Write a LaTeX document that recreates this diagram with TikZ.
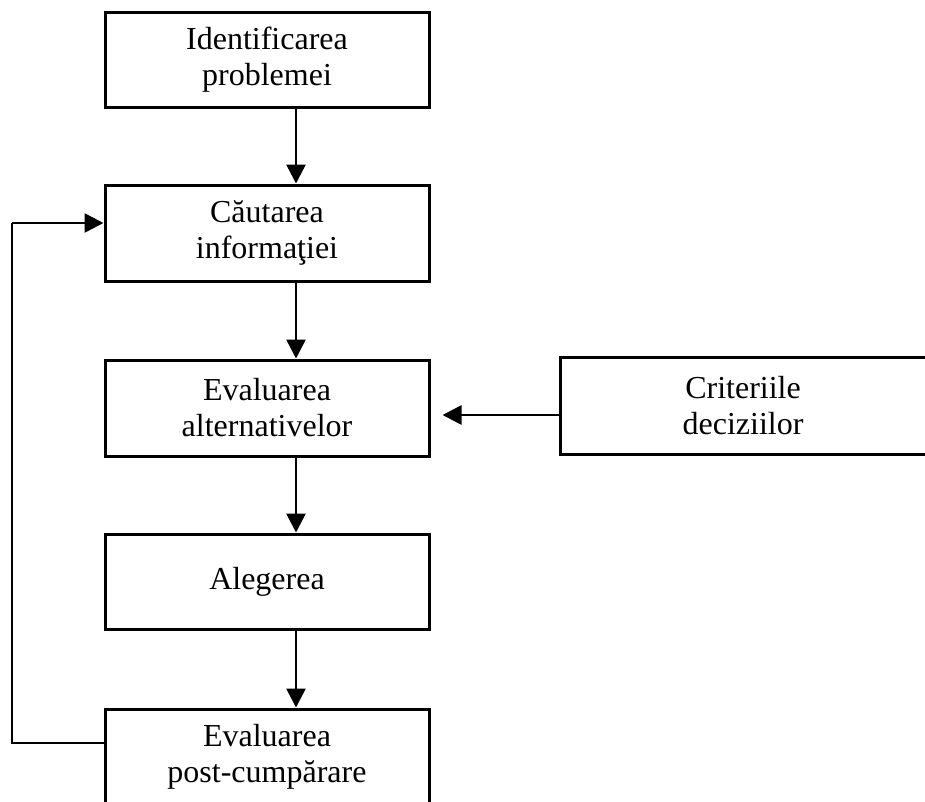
\documentclass[tikz,border=0pt]{standalone}
\usepackage{fontspec}
\setmainfont{Liberation Serif}
\usetikzlibrary{arrows.meta}
\begin{document}
\begin{tikzpicture}[x=1pt,y=-1pt,
  stage/.style={draw, line width=3pt, rectangle, minimum width=324pt,
    inner sep=0pt, align=center, font=\fontsize{32}{36}\selectfont},
  flow/.style={line width=2.6pt, -{Triangle[length=19pt,width=19pt]}},
  link/.style={line width=2.6pt}]
\useasboundingbox (0,0) rectangle (925,801);
\clip (0,0) rectangle (925,801);
\fill[white] (0,0) rectangle (925,801);

% process stages
\node[stage, minimum height=95pt] (b1) at (267,59.5) {Identificarea\\problemei};
\node[stage, minimum height=96pt] (b2) at (267,233) {Căutarea\\informaţiei};
\node[stage, minimum height=96pt] (b3) at (267,408) {Evaluarea\\alternativelor};
\node[stage, minimum height=95pt] (b4) at (267,581.5) {Alegerea};
\node[stage, minimum height=95pt] (b5) at (267,756.5) {Evaluarea\\post-cumpărare};
\node[stage, minimum width=366pt, minimum height=97pt] (cr) at (743,405.5) {Criteriile\\deciziilor};

% guide coordinates for the connectors
\coordinate (ax) at (296,0);
\coordinate (fbx) at (12,0);
\coordinate (ay) at (0,415);

% main sequence
\draw[flow] (b1.south -| ax) -- (b2.north -| ax);
\draw[flow] (b2.south -| ax) -- (b3.north -| ax);
\draw[flow] (b3.south -| ax) -- (b4.north -| ax);
\draw[flow] (b4.south -| ax) -- (b5.north -| ax);

% decision criteria input
\draw[flow] (cr.west |- ay) -- ([xshift=12pt]b3.east |- ay);

% feedback loop
\draw[link] ([yshift=13.5pt]b5.west) -- ([yshift=13.5pt]b5.west -| fbx)
  -- ([yshift=10pt]b2.west -| fbx);
\draw[flow] ([yshift=10pt]b2.west -| fbx) -- ([yshift=10pt]b2.west);
\end{tikzpicture}
\end{document}
